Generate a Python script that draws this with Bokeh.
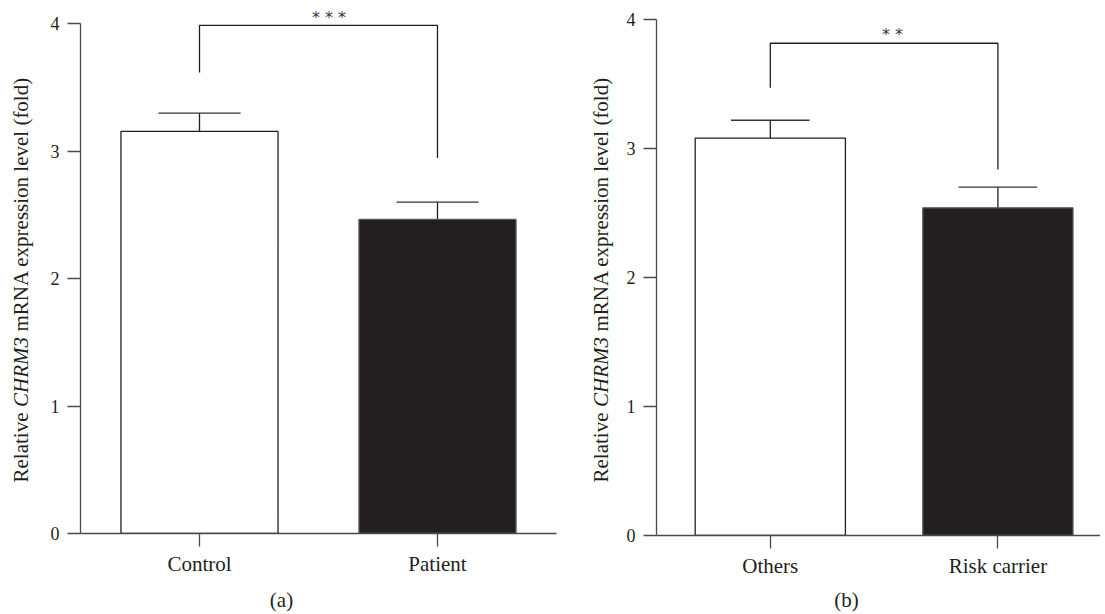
import math
from bokeh.plotting import figure
from bokeh.models import Range1d, FixedTicker, ColumnDataSource
from bokeh.layouts import row, column
from bokeh.embed import file_html
from bokeh.resources import INLINE
from bokeh.core.properties import value

# ---- data ----
categories_a = ["Control", "Patient"]
means_a = [3.155, 2.465]
sems_a = [0.144, 0.135]
bracket_a = [3.618, 3.987, 2.946]   # left leg bottom, top, right leg bottom
stars_a = "* * *"
stars_pos_a = [1.044, 4.052]

categories_b = ["Others", "Risk carrier"]
means_b = [3.081, 2.540]
sems_b = [0.138, 0.160]
bracket_b = [3.47, 3.816, 2.837]
stars_b = "* *"
stars_pos_b = [1.037, 3.881]

y_ticks = [0, 1, 2, 3, 4]
bar_fills = ["white", "#231f20"]
bar_lines = ["#231f20", "#5a5a5a"]
ylabel_parts = ["Relative", "CHRM3", "mRNA expression level (fold)"]
ylabel_styles = ["normal", "italic", "normal"]

FONT = "Liberation Serif"
INK = "#231f20"
AXIS = "#4a4a4a"
H_MAIN = 584
H_TAG = 28


def helper(width, height, yspan=None):
    yspan = height if yspan is None else yspan
    h = figure(width=width, height=height, x_range=Range1d(0, width), y_range=Range1d(0, yspan),
               output_backend="svg", toolbar_location=None,
               x_axis_location=None, y_axis_location=None,
               min_border_left=0, min_border_right=0, min_border_top=0, min_border_bottom=0)
    h.outline_line_color = None
    h.grid.visible = False
    return h


def ylabel_fig(xc, y0, frame_h):
    # the frame of this helper is aligned with the neighbouring plot's frame (height frame_h)
    h = helper(36, H_MAIN, frame_h)
    offs = [0.0, 75.5, 151.0]
    for t, st, off in zip(ylabel_parts, ylabel_styles, offs):
        h.text(x=[xc], y=[y0 + off], text=[t], angle=math.pi / 2, text_font=value(FONT),
               text_font_style=st, text_font_size="21px", text_color=INK,
               text_align="left", text_baseline="middle")
    return h


def tag_fig(width, tag, xc):
    h = helper(width, H_TAG)
    h.text(x=[xc], y=[13], text=[tag], text_font=value(FONT), text_font_size="21px",
           text_color=INK, text_align="center", text_baseline="middle")
    return h


def panel(cats, means, sems, bracket, stars, stars_pos, width, min_left, min_right,
          min_bottom, xend, ytop):
    p = figure(width=width, height=H_MAIN, x_range=Range1d(0, xend), y_range=Range1d(0, ytop),
               output_backend="svg", toolbar_location=None,
               min_border_left=min_left, min_border_right=min_right,
               min_border_top=0, min_border_bottom=min_bottom)
    p.outline_line_color = None
    p.grid.visible = False

    xs = [i + 0.5 for i in range(len(cats))]
    src = ColumnDataSource(dict(x=xs, top=means, fill=bar_fills, line=bar_lines,
                                hi=[m + s for m, s in zip(means, sems)],
                                cl=[x - 0.1725 for x in xs], cr=[x + 0.1725 for x in xs]))
    p.segment(x0="x", y0="top", x1="x", y1="hi", source=src, line_color=INK, line_width=1.3)
    p.segment(x0="cl", y0="hi", x1="cr", y1="hi", source=src, line_color="#333333", line_width=1.3)
    p.vbar(x="x", top="top", bottom=0, width=0.66, source=src, fill_color="fill",
           line_color="line", line_width=1.3)

    p.multi_line(xs=[[xs[0], xs[0], xs[1], xs[1]]],
                 ys=[[bracket[0], bracket[1], bracket[1], bracket[2]]],
                 line_color=INK, line_width=1.3)
    p.text(x=[stars_pos[0]], y=[stars_pos[1]], text=[stars], text_font=value("DejaVu Sans"),
           text_font_size="16px", text_align="center", text_baseline="alphabetic",
           text_color="#3a3a3a")

    p.yaxis.bounds = (0, 4)
    p.yaxis.ticker = FixedTicker(ticks=y_ticks)
    p.xaxis.ticker = FixedTicker(ticks=xs)
    p.xaxis.major_label_overrides = {x: c for x, c in zip(xs, cats)}
    for ax in (p.xaxis[0], p.yaxis[0]):
        ax.axis_line_color = AXIS
        ax.axis_line_width = 1.3
        ax.major_tick_line_color = AXIS
        ax.major_tick_line_width = 1.3
        ax.major_tick_out = 13
        ax.major_tick_in = 0
        ax.minor_tick_line_color = None
        ax.major_label_text_font = FONT
        ax.major_label_text_color = INK
    p.yaxis.major_label_text_font_size = "18px"
    p.xaxis.major_label_text_font_size = "21px"
    p.yaxis.major_label_standoff = 8
    p.xaxis.major_label_standoff = 5
    return p


pa = panel(categories_a, means_a, sems_a, bracket_a, stars_a, stars_pos_a,
           width=544, min_left=44, min_right=24, min_bottom=H_MAIN - 533, xend=2.0, ytop=4.1827)
pb = panel(categories_b, means_b, sems_b, bracket_b, stars_b, stars_pos_b,
           width=484, min_left=40, min_right=0, min_bottom=H_MAIN - 535, xend=1.9508, ytop=4.1473)

col_a = column(row(ylabel_fig(20, 533 - 482, 533), pa), tag_fig(580, "(a)", 281))
col_b = column(row(ylabel_fig(20, 535 - 482, 535), pb), tag_fig(520, "(b)", 266))

layout = row(col_a, col_b)
open("out.html", "w").write(file_html(layout, INLINE))
